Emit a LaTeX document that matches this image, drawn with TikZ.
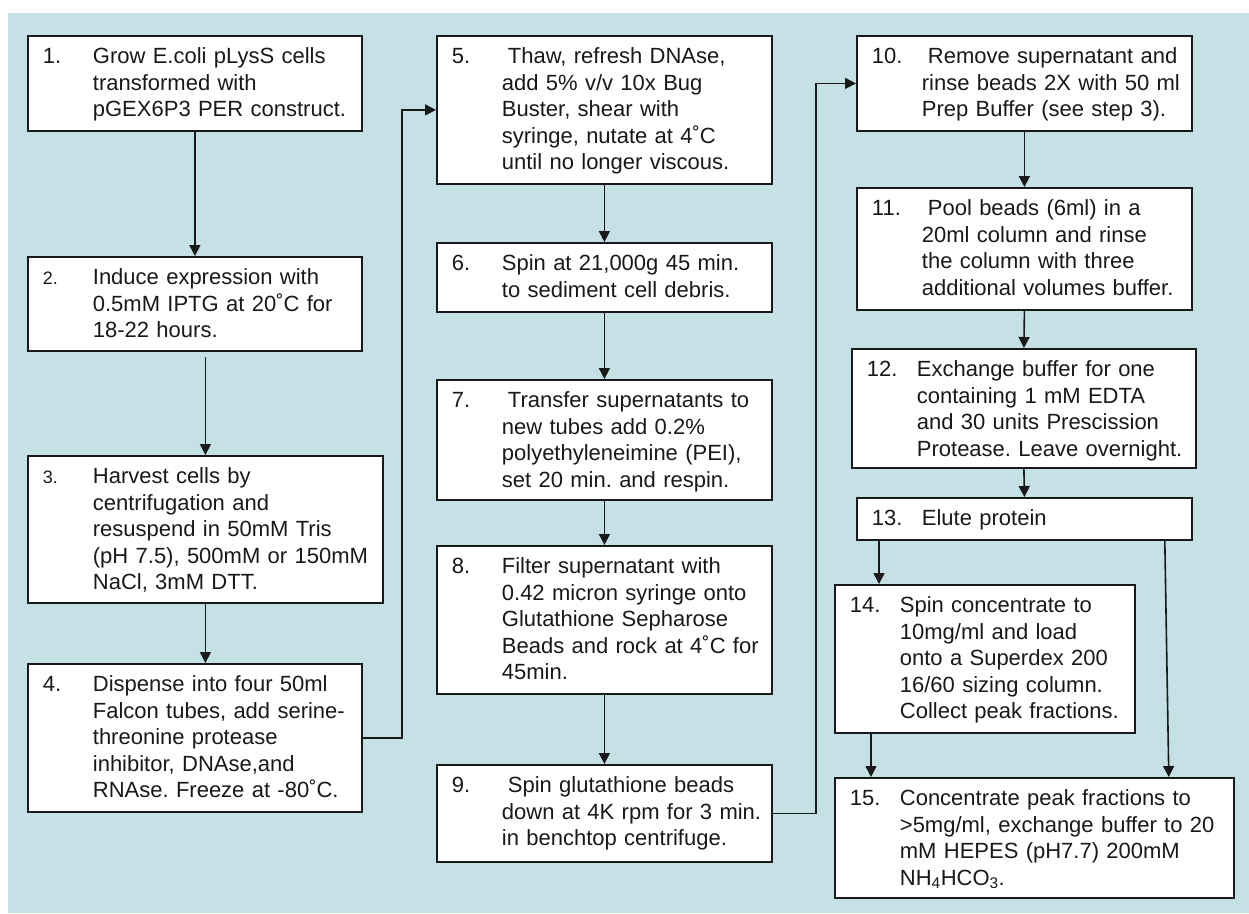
\documentclass[tikz,border=0pt]{standalone}
\usepackage{fontspec}
\setmainfont{Liberation Sans}
\usetikzlibrary{arrows.meta}
\definecolor{bgblue}{RGB}{197,225,229}
\definecolor{ink}{RGB}{25,25,25}
\frenchspacing
\newcommand\stp[3][22pt]{{\fontsize{#1}{26.6pt}\selectfont\makebox[50pt][l]{#2}}\parbox[t]{400pt}{\raggedright #3}}
\tikzset{
  box/.style={draw=ink, line width=1.8pt, fill=white, anchor=north west,
    inner xsep=15pt, inner ysep=0pt, text height=27.5pt,
    font=\fontsize{22}{26.6}\selectfont\frenchspacing, text=ink, align=left},
  arr/.style={draw=ink, line width=1.6pt, -{Triangle[length=11pt,width=11pt]}}
}
\begin{document}
\begin{tikzpicture}[x=1pt,y=-1pt]
\useasboundingbox (0,0) rectangle (1249,913);
\fill[bgblue] (8,13) rectangle (1249,913);

\node[box, text width=304pt, text depth=67.5pt] (b1) at (27,35)
  {\stp{1.}{Grow E.coli pLysS cells\\transformed with\\pGEX6P3 PER construct.}};
\node[box, text width=304pt, text depth=66.5pt] (b2) at (27,256)
  {\stp[18pt]{2.}{Induce expression with\\0.5mM IPTG at 20˚C for\\18-22 hours.}};
\node[box, text width=325pt, text depth=119.5pt] (b3) at (27,455)
  {\stp[18pt]{3.}{Harvest cells by\\centrifugation and\\resuspend in 50mM Tris\\(pH 7.5), 500mM or 150mM\\NaCl, 3mM DTT.}};
\node[box, text width=304pt, text depth=120.5pt] (b4) at (27,663)
  {\stp{4.}{Dispense into four 50ml\\Falcon tubes, add serine-\\threonine protease\\inhibitor, DNAse,and\\RNAse. Freeze at -80˚C.}};

\node[box, text width=305pt, text depth=120.5pt] (b5) at (436,35)
  {\stp{5.}{\hspace*{6pt}Thaw, refresh DNAse,\\add 5\% v/v 10x Bug\\Buster, shear with\\syringe, nutate at 4˚C\\until no longer viscous.}};
\node[box, text width=305pt, text depth=41.5pt] (b6) at (436,242)
  {\stp{6.}{Spin at 21,000g 45 min.\\to sediment cell debris.}};
\node[box, text width=305pt, text depth=92.5pt] (b7) at (436,379)
  {\stp{7.}{\hspace*{6pt}Transfer supernatants to\\new tubes add 0.2\%\\polyethyleneimine (PEI),\\set 20 min. and respin.}};
\node[box, text width=305pt, text depth=120.5pt] (b8) at (436,545)
  {\stp{8.}{Filter supernatant with\\0.42 micron syringe onto\\Glutathione Sepharose\\Beads and rock at 4˚C for\\45min.}};
\node[box, text width=305pt, text depth=69.5pt] (b9) at (436,764)
  {\stp{9.}{\hspace*{6pt}Spin glutathione beads\\down at 4K rpm for 3 min.\\in benchtop centrifuge.}};

\node[box, text width=305pt, text depth=67.5pt] (b10) at (856,35)
  {\stp{10.}{\hspace*{6pt}Remove supernatant and\\rinse beads 2X with 50 ml\\Prep Buffer (see step 3).}};
\node[box, text width=305pt, text depth=94.5pt] (b11) at (856,187)
  {\stp{11.}{\hspace*{6pt}Pool beads (6ml) in a\\20ml column and rinse\\the column with three\\additional volumes buffer.}};
\node[box, text width=314pt, text depth=91.5pt] (b12) at (851,348)
  {\stp{12.}{Exchange buffer for one\\containing 1 mM EDTA\\and 30 units Prescission\\Protease. Leave overnight.}};
\node[box, text width=305pt, text depth=14.5pt] (b13) at (856,497)
  {\stp{13.}{Elute protein}};
\node[box, text width=270pt, text depth=120.5pt] (b14) at (834,584)
  {\stp{14.}{Spin concentrate to\\10mg/ml and load\\onto a Superdex 200\\16/60 sizing column.\\Collect peak fractions.}};
\node[box, text width=369pt, text depth=92.5pt] (b15) at (834,777)
  {\stp{15.}{Concentrate peak fractions to\\>5mg/ml, exchange buffer to 20\\mM HEPES (pH7.7) 200mM\\NH\textsubscript{4}HCO\textsubscript{3}.}};

\draw[arr] (b1.south) -- (b2.north);
\draw[arr] ([yshift=-5pt]b3.north |- b2.south) -- (b3.north);
\draw[arr] (b3.south) -- (b3.south |- b4.north);
\draw[arr] (b4.east) -- ++(39pt,0) |- (b5.west);
\draw[arr] (b5.south) -- (b6.north);
\draw[arr] (b6.south) -- (b7.north);
\draw[arr] (b7.south) -- (b8.north);
\draw[arr] (b8.south) -- (b9.north);
\draw[arr] (b9.east) -- ++(43pt,0) |- (b10.west);
\draw[arr] (b10.south) -- (b11.north);
\draw[arr] (b11.south) -- (b12.north);
\draw[arr] (b12.south) -- (b13.north);
\draw[arr] ([xshift=23pt]b13.south west) -- ([xshift=23pt]b13.south west |- b14.north);
\draw[arr] ([xshift=-28pt]b13.south east) -- ([xshift=-66pt]b15.north east);
\draw[arr] ([xshift=37pt]b14.south west) -- ([xshift=37pt]b14.south west |- b15.north);
\end{tikzpicture}
\end{document}
